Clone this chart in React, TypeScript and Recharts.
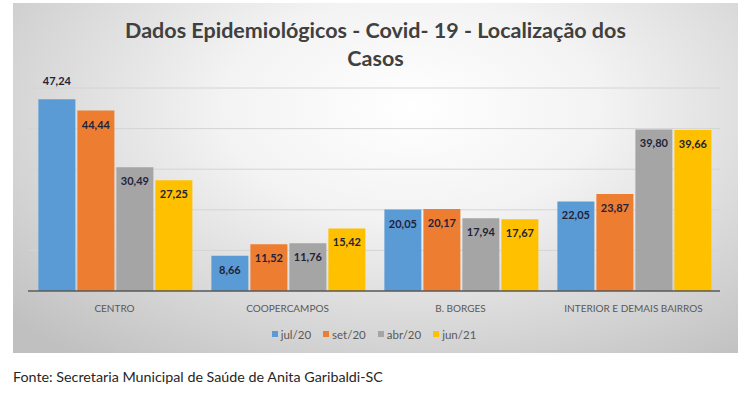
import React from "react";
import { Bar, BarChart, CartesianGrid, LabelList, Legend, XAxis, YAxis } from "recharts";

const categories = ["CENTRO", "COOPERCAMPOS", "B. BORGES", "INTERIOR E DEMAIS BAIRROS"];
const jul20 = [47.24, 8.66, 20.05, 22.05];
const set20 = [44.44, 11.52, 20.17, 23.87];
const abr20 = [30.49, 11.76, 17.94, 39.8];
const jun21 = [27.25, 15.42, 17.67, 39.66];
const yTicks = [0, 5, 10, 15, 20, 25, 30, 35, 40, 45, 50];

const series = [
  { key: "jul20", label: "jul/20", color: "#5b9bd5" },
  { key: "set20", label: "set/20", color: "#ed7d31" },
  { key: "abr20", label: "abr/20", color: "#a5a5a5" },
  { key: "jun21", label: "jun/21", color: "#ffc000" },
];

const data = categories.map((name, i) => ({
  name,
  jul20: jul20[i],
  set20: set20[i],
  abr20: abr20[i],
  jun21: jun21[i],
}));

const FONT = "Lato, 'Open Sans', sans-serif";
const fmt = (v: number) => v.toFixed(2).replace(".", ",");

const renderValue = (props: any) => {
  const { x, y, width, value } = props;
  const above = value > 45;
  return (
    <text
      x={x + width / 2}
      y={above ? y - 19 : y + 13.5}
      textAnchor="middle"
      dominantBaseline="central"
      fontFamily={FONT}
      fontWeight={700}
      fontSize={11}
      fill="#22223a"
    >
      {fmt(value)}
    </text>
  );
};

const LegendContent = () => (
  <div style={{ display: "flex", justifyContent: "center", height: 20, alignItems: "center", fontFamily: FONT, fontSize: 11.5, color: "#595959" }}>
    {series.map((s) => (
      <span key={s.key} style={{ display: "flex", alignItems: "center", margin: "0 6px" }}>
        <span style={{ width: 6, height: 6, background: s.color, marginRight: 3, display: "inline-block" }} />
        {s.label}
      </span>
    ))}
  </div>
);

export default function App() {
  return (
    <div style={{ position: "absolute", left: 0, top: 0, width: 744, height: 393, background: "#ffffff", fontFamily: FONT }}>
      <div
        style={{
          position: "absolute",
          left: 13,
          top: 3,
          width: 725,
          height: 350,
          background: "radial-gradient(ellipse 75% 90% at 55% 30%, #ffffff 0%, #f3f3f3 35%, #d4d4d4 75%, #c0c0c0 100%)",
        }}
      >
        <div
          style={{
            position: "absolute",
            left: 0,
            top: 13,
            width: 725,
            textAlign: "center",
            fontSize: 21.5,
            fontWeight: 700,
            color: "#404040",
            lineHeight: "28px",
          }}
        >
          Dados Epidemiológicos - Covid- 19 - Localização dos
          <br />
          Casos
        </div>
        <BarChart
          width={725}
          height={350}
          data={data}
          margin={{ top: 85, right: 18, left: 15, bottom: 14 }}
          barCategoryGap="6%"
          barGap={2}
          style={{ position: "absolute", left: 0, top: 0 }}
        >
          <CartesianGrid vertical={false} stroke="#d4d4d4" />
          <YAxis hide domain={[0, 50]} ticks={yTicks} />
          <XAxis
            dataKey="name"
            height={28}
            tickLine={false}
            axisLine={{ stroke: "#595959", strokeWidth: 1.5 }}
            tickMargin={8}
            tick={{ fontSize: 10, fill: "#595959", fontFamily: FONT }}
            interval={0}
          />
          <Legend verticalAlign="bottom" content={<LegendContent />} wrapperStyle={{ bottom: 9 }} />
          {series.map((s) => (
            <Bar key={s.key} dataKey={s.key} name={s.label} fill={s.color} isAnimationActive={false}>
              <LabelList dataKey={s.key} content={renderValue} />
            </Bar>
          ))}
        </BarChart>
      </div>
      <div style={{ position: "absolute", left: 13, top: 368, fontSize: 14.3, color: "#262626" }}>
        Fonte: Secretaria Municipal de Saúde de Anita Garibaldi-SC
      </div>
    </div>
  );
}
